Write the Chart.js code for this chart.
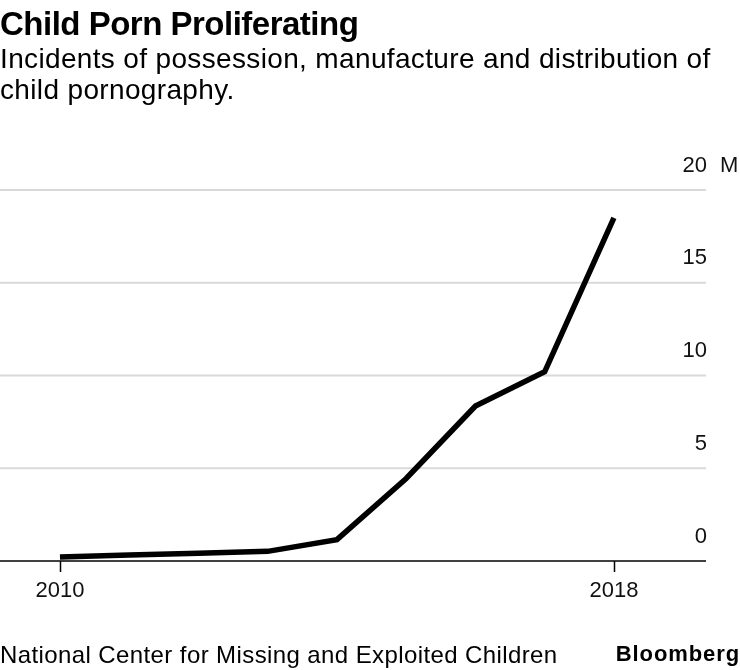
<!DOCTYPE html>
<html>
<head>
<meta charset="utf-8">
<script src="https://cdn.jsdelivr.net/npm/chart.js@4.4.1/dist/chart.umd.min.js"></script>
<style>
  html, body { margin: 0; padding: 0; background: #fff; }
  #wrap { position: relative; width: 740px; height: 670px; overflow: hidden;
          font-family: "Liberation Sans", Arial, Helvetica, sans-serif; color: #000; }
  #title { position: absolute; left: 0; top: 7px; font-size: 33px; line-height: 33px;
           font-weight: bold; letter-spacing: -0.5px; white-space: nowrap; }
  #subtitle { position: absolute; left: 0; top: 43px; font-size: 28px; line-height: 31px;
              letter-spacing: 0.35px; white-space: nowrap; }
  #source { position: absolute; left: 0; top: 643px; font-size: 24px; line-height: 24px;
            letter-spacing: 0.4px; white-space: nowrap; }
  #brand { position: absolute; right: 0; top: 642px; font-size: 22px; line-height: 24px;
           font-weight: bold; letter-spacing: 0.9px; white-space: nowrap; }
  canvas { position: absolute; left: 0; top: 0; }
</style>
</head>
<body>
<div id="wrap">
  <canvas id="c" width="740" height="670"></canvas>
  <div id="title">Child Porn Proliferating</div>
  <div id="subtitle">Incidents of possession, manufacture and distribution of<br>child pornography.</div>
  <div id="source">National Center for Missing and Exploited Children</div>
  <div id="brand">Bloomberg</div>
</div>
<script>
// ---- Data (millions of incidents) ----
const years = [2010, 2011, 2012, 2013, 2014, 2015, 2016, 2017, 2018];
const incidentsM = [0.22, 0.33, 0.42, 0.52, 1.15, 4.45, 8.35, 10.2, 18.5];
const yTickValues = [0, 5, 10, 15, 20];
const yTickLabels = ['0', '5', '10', '15', '20'];
const yUnit = 'M';
const xTickYears = [2010, 2018];
const xTickLabels = ['2010', '2018'];

const FONT = '"Liberation Sans", Arial, Helvetica, sans-serif';

const axisPlugin = {
  id: 'bbgAxes',
  beforeDatasetsDraw(chart) {
    const { ctx, chartArea, scales } = chart;
    const x = scales.x, y = scales.y;
    ctx.save();
    // horizontal gridlines
    yTickValues.forEach(v => {
      if (v === 0) return;
      const py = y.getPixelForValue(v);
      ctx.strokeStyle = '#d9d9d9';
      ctx.lineWidth = 2;
      ctx.beginPath();
      ctx.moveTo(chartArea.left, py);
      ctx.lineTo(chartArea.right, py);
      ctx.stroke();
    });
    // baseline axis
    const py0 = y.getPixelForValue(0);
    ctx.strokeStyle = '#000';
    ctx.lineWidth = 1.5;
    ctx.beginPath();
    ctx.moveTo(chartArea.left, py0);
    ctx.lineTo(chartArea.right, py0);
    ctx.stroke();
    // x tick marks
    xTickYears.forEach(yr => {
      const px = Math.round(x.getPixelForValue(yr)) + 0.5;
      ctx.beginPath();
      ctx.moveTo(px, py0);
      ctx.lineTo(px, py0 + 11);
      ctx.stroke();
    });
    // y labels
    ctx.fillStyle = '#111';
    ctx.font = '22px ' + FONT;
    ctx.textBaseline = 'alphabetic';
    yTickValues.forEach((v, i) => {
      const py = y.getPixelForValue(v);
      ctx.textAlign = 'right';
      ctx.fillText(yTickLabels[i], chartArea.right + 1, py - 18.5);
      if (i === yTickValues.length - 1) {
        ctx.textAlign = 'left';
        ctx.fillText(yUnit, chartArea.right + 14, py - 18.5);
      }
    });
    // x labels
    ctx.textAlign = 'center';
    xTickYears.forEach((yr, i) => {
      ctx.fillText(xTickLabels[i], x.getPixelForValue(yr), py0 + 36);
    });
    ctx.restore();
  }
};

new Chart(document.getElementById('c'), {
  type: 'line',
  data: {
    datasets: [{
      data: years.map((yr, i) => ({ x: yr, y: incidentsM[i] })),
      borderColor: '#000',
      borderWidth: 5.5,
      pointRadius: 0,
      tension: 0,
      borderJoinStyle: 'miter',
      borderCapStyle: 'butt',
      clip: false
    }]
  },
  options: {
    responsive: false,
    animation: false,
    devicePixelRatio: 1,
    events: [],
    layout: { padding: { left: 0, right: 34, top: 190, bottom: 109 } },
    plugins: { legend: { display: false }, tooltip: { enabled: false }, title: { display: false } },
    scales: {
      x: { type: 'linear', display: false, min: 2009.134, max: 2019.33 },
      y: { display: false, min: 0, max: 20 }
    }
  },
  plugins: [axisPlugin]
});
</script>
</body>
</html>
